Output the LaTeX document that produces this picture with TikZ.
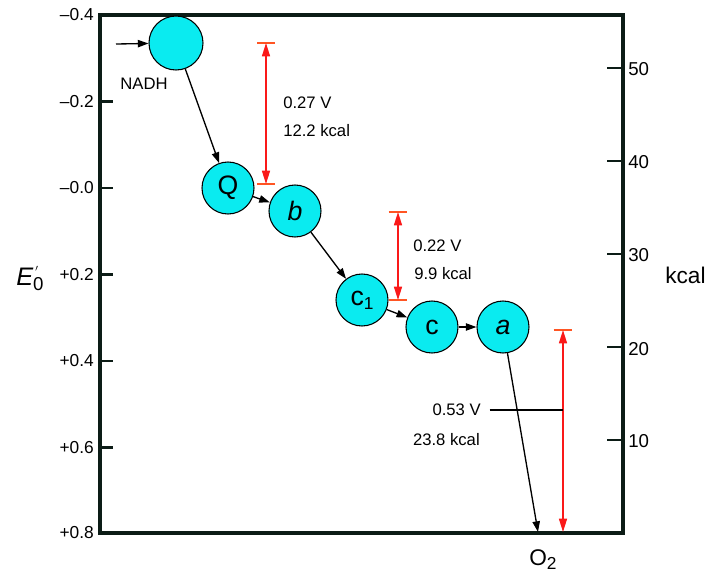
\documentclass[tikz,border=0pt]{standalone}
\usepackage{fontspec}
\setmainfont{Liberation Sans}
\usetikzlibrary{arrows.meta}
\definecolor{cyanfill}{RGB}{10,235,240}
\definecolor{redline}{RGB}{250,25,25}
\definecolor{redbar}{RGB}{255,85,35}
\definecolor{framecol}{RGB}{12,28,22}
\begin{document}
\begin{tikzpicture}[x=0.75pt,y=-0.75pt,
 carrier/.style={circle,draw=black,line width=0.8pt,fill=cyanfill,minimum size=39pt,inner sep=0pt,font=\fontsize{20}{20}\selectfont},
 flow/.style={-{Triangle[length=8pt,width=5.5pt]},line width=1pt},
 gap/.style={{Triangle[length=10pt,width=6pt]}-{Triangle[length=10pt,width=6pt]},redline,line width=1.1pt},
 capbar/.style={redbar,line width=1.3pt},
 frame/.style={framecol,line width=2.4pt},
 tickmark/.style={framecol,line width=1.8pt},
 ltick/.style={anchor=east,font=\fontsize{13}{13}\selectfont,inner sep=0pt},
 rtick/.style={anchor=west,font=\fontsize{14}{14}\selectfont,inner sep=0pt},
 lab/.style={font=\fontsize{12.5}{12.5}\selectfont,inner sep=0pt}
]
\useasboundingbox (0,0) rectangle (719,576);
% frame
\draw[frame] (100,15) rectangle (623,533);
% left ticks
\foreach \yy in {101.5,188,274.5,361,447.5} \draw[tickmark] (100,\yy) -- (113,\yy);
\node[ltick] (l1) at (94,15) {--0.4};
\node[ltick] (l2) at (94,101.5) {--0.2};
\node[ltick] (l3) at (94,188) {--0.0};
\node[ltick] (l4) at (94,274.5) {+0.2};
\node[ltick] (l5) at (94,361) {+0.4};
\node[ltick] (l6) at (94,447.5) {+0.6};
\node[ltick] (l7) at (94,533) {+0.8};
% right ticks
\foreach \yy in {68,161,254,347,440} \draw[tickmark] (607,\yy) -- (623,\yy);
\node[rtick] (r50) at (628,69) {50};
\node[rtick] (r40) at (628,162) {40};
\node[rtick] (r30) at (628,255) {30};
\node[rtick] (r20) at (628,349) {20};
\node[rtick] (r10) at (628,441) {10};
\node[anchor=base west,inner sep=0pt,font=\fontsize{17}{17}\selectfont] (kcalax) at (665,283) {kcal};
% E'0
\node[anchor=base west,inner sep=0pt,font=\fontsize{19}{19}\selectfont] (eaxis) at (16,285)
 {\itshape E\upshape\rlap{\raisebox{6.5pt}{\fontsize{10}{10}\selectfont\kern1.5pt$'$}}\raisebox{-4pt}{\fontsize{14}{14}\selectfont 0}};
% carriers
\node[carrier,minimum size=40.5pt] (nadh) at (176,43) {};
\node[carrier] (q) at (228,188) {Q};
\node[carrier] (b) at (295,211) {\itshape b};
\node[carrier] (c1) at (362,300) {c\raisebox{-3pt}{\fontsize{13}{13}\selectfont 1}};
\node[carrier] (c) at (432,327) {c};
\node[carrier] (a) at (503,327) {\itshape a};
\node[lab] (nadhlab) at (144,84) {NADH};
\node[inner sep=0pt,font=\fontsize{17}{17}\selectfont] (o2) at (543,560) {O\raisebox{-3pt}{\fontsize{13}{13}\selectfont 2}};
% flow arrows
\coordinate (in) at (116,44);
\coordinate (o2tip) at (538,532);
\draw[flow] (in) -- (nadh);
\draw[flow] (nadh) -- (q);
\draw[flow] (q) -- (b);
\draw[flow] (b) -- (c1);
\draw[flow] (c1) -- (c);
\draw[flow] (c) -- (a);
\draw[flow] (a) -- (o2tip);
% red span arrows
\coordinate (r1t) at (266,43);
\coordinate (r1b) at (266,184);
\coordinate (r2t) at (398,212);
\coordinate (r2b) at (398,300);
\coordinate (r3t) at (563,330);
\coordinate (r3b) at (563,532);
\draw[capbar] ([xshift=-6.75pt]r1t) -- ([xshift=6.75pt]r1t);
\draw[capbar] ([xshift=-6.75pt]r1b) -- ([xshift=6.75pt]r1b);
\draw[capbar] ([xshift=-7pt]r2t) -- ([xshift=7pt]r2t);
\draw[capbar] ([xshift=-7pt]r2b) -- ([xshift=7pt]r2b);
\draw[capbar] ([xshift=-7pt]r3t) -- ([xshift=7pt]r3t);
\draw[gap] (r1t) -- (r1b);
\draw[gap] (r2t) -- (r2b);
\draw[gap] (r3t) -- (r3b);
% labels
\node[lab,anchor=west] (v1) at (283,103) {0.27 V};
\node[lab,anchor=west] (k1) at (283,131) {12.2 kcal};
\node[lab,anchor=west] (v2) at (413,246) {0.22 V};
\node[lab,anchor=west] (k2) at (414,274) {9.9 kcal};
\node[lab,anchor=east] (v3) at (481,410) {0.53 V};
\node[lab,anchor=east] (k3) at (480,440) {23.8 kcal};
\draw[line width=1.8pt] ([xshift=6.5pt]v3.east) -- (v3.east -| r3t);
\end{tikzpicture}
\end{document}
